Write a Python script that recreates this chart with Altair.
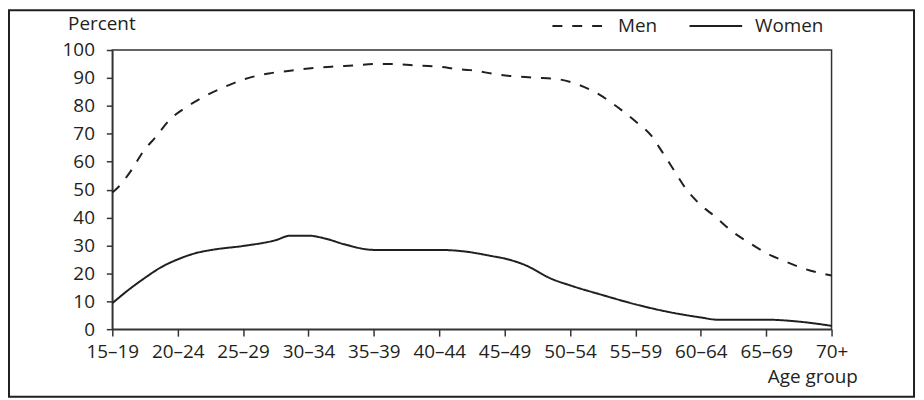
import altair as alt
import pandas as pd

age_groups = ["15–19", "20–24", "25–29", "30–34", "35–39", "40–44",
              "45–49", "50–54", "55–59", "60–64", "65–69", "70+"]

# positions are in age-group index units (0 = 15–19, 11 = 70+)
men_pos = [0, 0.07, 0.29, 0.46, 0.66, 0.89, 1.13, 1.41, 1.73, 2.03, 2.39, 2.69,
           3.0, 3.4, 3.71, 4.0, 4.26, 4.62, 5.0, 5.3, 5.47, 5.93, 6.44, 6.8,
           7.15, 7.45, 7.73, 8.0, 8.24, 8.41, 8.59, 8.77, 8.97, 9.22, 9.48,
           9.73, 10.0, 10.29, 10.59, 11.0]
men_pct = [49.0, 50.4, 56.9, 63.2, 68.8, 75.3, 79.5, 83.4, 86.9, 89.6, 91.6, 92.5,
           93.4, 94.1, 94.5, 95.0, 95.0, 94.5, 94.0, 93.1, 92.8, 91.1, 90.1, 89.6,
           87.4, 84.0, 79.5, 74.5, 69.4, 63.5, 56.9, 50.4, 45.1, 40.3, 35.0,
           31.1, 27.3, 24.3, 21.6, 19.2]

women_pos = [0, 0.26, 0.5, 0.74, 1.0, 1.27, 1.55, 2.0, 2.5, 2.72, 3.0, 3.25,
             3.55, 4.0, 5.0, 5.4, 5.8, 6.0, 6.3, 6.72, 7.0, 7.5, 8.0, 8.5,
             9.0, 9.25, 10.0, 10.5, 11.0]
women_pct = [9.3, 14.3, 18.4, 22.1, 25.0, 27.2, 28.5, 29.8, 31.9, 33.5, 33.5, 32.5,
             30.4, 28.4, 28.4, 27.8, 26.2, 25.3, 23.1, 18.0, 15.7, 12.2, 8.9, 6.2,
             4.2, 3.4, 3.4, 2.7, 1.2]

series = ["Men", "Women"]
y_ticks = list(range(0, 101, 10))

df = pd.concat([
    pd.DataFrame({"pos": men_pos, "pct": men_pct, "sex": series[0]}),
    pd.DataFrame({"pos": women_pos, "pct": women_pct, "sex": series[1]}),
], ignore_index=True)

label_expr = "[" + ",".join("'" + a + "'" for a in age_groups) + "][datum.value]"

INK = "#231f20"
FONT = "Open Sans"
FS = 19

lines = alt.Chart(df).mark_line(
    strokeWidth=2, interpolate="monotone", color=INK
).encode(
    x=alt.X("pos:Q",
            scale=alt.Scale(domain=[0, len(age_groups) - 1], nice=False, zero=False),
            axis=alt.Axis(values=list(range(len(age_groups))), labelExpr=label_expr,
                          title="Age group", titleAlign="right", titleX=750, titleY=54,
                          titleBaseline="alphabetic", tickSize=7, labelPadding=7,
                          labelFlush=False, labelOverlap=False)),
    y=alt.Y("pct:Q",
            scale=alt.Scale(domain=[0, 100], nice=False),
            axis=alt.Axis(values=y_ticks, title="Percent", titleAngle=0,
                          titleAlign="center", titleX=-11, titleY=-21,
                          titleBaseline="alphabetic", tickSize=6, labelPadding=12,
                          labelFlush=False, labelOverlap=False)),
    strokeDash=alt.StrokeDash(
        "sex:N",
        scale=alt.Scale(domain=series, range=[[10, 10], [1, 0]]),
        legend=alt.Legend(title=None, orient="none", legendX=442, legendY=-52,
                          direction="horizontal", symbolType="stroke",
                          symbolSize=2809, symbolStrokeWidth=2,
                          symbolStrokeColor=INK, labelFontSize=FS, labelFont=FONT,
                          labelColor=INK, labelOffset=12, columnPadding=28)),
)

border = alt.Chart(pd.DataFrame({"a": [0]})).mark_rect(
    filled=False, stroke=INK, strokeWidth=2
).encode(
    x=alt.value(-104), x2=alt.value(807), y=alt.value(-40), y2=alt.value(349)
)

chart = alt.layer(lines, border).properties(
    width=724, height=281,
    autosize=alt.AutoSizeParams(type="none"),
    padding={"left": 105, "top": 41, "right": 85, "bottom": 70},
    background="white",
).configure_view(
    stroke="#333333", strokeWidth=1.5
).configure_axis(
    grid=False, domainColor="#333333", domainWidth=1.5, tickColor="#333333",
    tickWidth=1.5, labelFont=FONT, labelFontSize=FS, labelColor=INK,
    titleFont=FONT, titleFontSize=FS, titleFontWeight="normal", titleColor=INK,
)

chart.save("out.html", embed_options={"renderer": "svg", "actions": False})
